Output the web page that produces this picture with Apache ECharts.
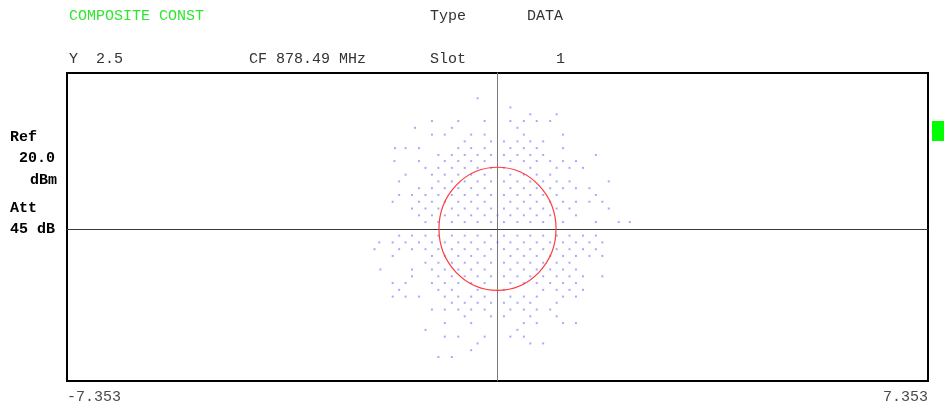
<!doctype html>
<html>
<head>
<meta charset="utf-8">
<title>Composite Const</title>
<script src="https://cdn.jsdelivr.net/npm/echarts@6/dist/echarts.min.js"></script>
<style>
  html, body { margin: 0; padding: 0; background: #fff; }
  #main { width: 944px; height: 402px; }
</style>
</head>
<body>
<div id="main"></div>
<script>
// axis ranges (x limits printed at the bottom, y about +-2.5 with the zero line a bit below centre)
var xLimits = [-7.353, 7.353];
var yLimits = [-2.47, 2.53];

// reference circle radius
var circleRadius = [1.0];

// constellation points: one Q level per row, I values
var qLevels = [2.12, 1.97, 1.86, 1.75, 1.64, 1.53, 1.42, 1.31, 1.20, 1.10, 0.99, 0.88, 0.77, 0.66, 0.55, 0.44, 0.33, 0.22, 0.11,
  -0.11, -0.22, -0.33, -0.44, -0.55, -0.66, -0.77, -0.88, -0.99, -1.10, -1.20, -1.31, -1.42, -1.53, -1.64, -1.75, -1.86, -1.97, -2.08];
var iByLevel = [
  [-0.34],
  [0.22],
  [0.56, 1.01],
  [-1.12, -0.67, -0.22, 0.22, 0.45, 0.67, 0.90],
  [-1.41, -0.78, 0.34],
  [-1.12, -0.90, -0.45, -0.22, 0.45, 1.12],
  [-0.56, -0.11, 0.11, 0.34, 0.56, 0.78],
  [-1.75, -1.57, -1.34, -0.67, -0.45, -0.22, 0.22, 0.45, 0.67, 1.12],
  [-1.01, -0.78, -0.56, -0.34, -0.11, 0.11, 0.34, 0.56, 0.78, 1.68],
  [-1.76, -1.34, -0.90, -0.67, -0.45, -0.22, 0.22, 0.45, 0.67, 0.90, 1.12, 1.34],
  [-1.23, -1.01, -0.78, -0.56, -0.34, -0.11, 0.11, 0.56, 1.01, 1.23, 1.46],
  [-1.57, -1.12, -0.90, -0.67, -0.45, -0.22, 0.22, 0.45, 0.67, 0.90],
  [-1.68, -1.01, -0.78, -0.56, -0.34, -0.11, 0.11, 0.34, 0.56, 0.78, 1.01, 1.23, 1.90],
  [-1.34, -1.12, -0.90, -0.67, -0.45, -0.22, 0.22, 0.45, 0.67, 0.90, 1.12, 1.34, 1.57],
  [-1.68, -1.46, -1.23, -1.01, -0.78, -0.56, -0.34, -0.11, 0.11, 0.34, 0.56, 0.78, 1.01, 1.68],
  [-1.79, -1.34, -1.12, -0.90, -0.67, -0.45, -0.22, 0.22, 0.45, 0.67, 0.90, 1.12, 1.34, 1.57, 1.79],
  [-1.46, -1.23, -1.01, -0.78, -0.56, -0.34, -0.11, 0.11, 0.34, 0.56, 0.78, 1.01, 1.23, 1.90],
  [-1.34, -1.12, -0.90, -0.67, -0.45, -0.22, 0, 0.22, 0.45, 0.67, 0.90, 1.34],
  [-1.23, -1.01, -0.78, -0.56, -0.34, -0.11, 0.11, 0.34, 0.56, 0.78, 1.12, 1.68, 2.07, 2.26],
  [-1.68, -1.46, -1.23, -1.01, -0.78, -0.56, -0.34, -0.11, 0.11, 0.34, 0.56, 0.78, 1.01, 1.23, 1.46, 1.68],
  [-2.02, -1.79, -1.57, -1.34, -1.12, -0.90, -0.67, -0.45, -0.22, 0, 0.22, 0.45, 0.67, 0.90, 1.12, 1.34, 1.57, 1.79],
  [-2.10, -1.68, -1.46, -1.23, -1.01, -0.78, -0.56, -0.34, -0.11, 0.11, 0.34, 0.56, 0.78, 1.01, 1.23, 1.46, 1.68],
  [-1.79, -1.12, -0.90, -0.67, -0.45, -0.22, 0.22, 0.45, 0.67, 0.90, 1.12, 1.34, 1.57, 1.79],
  [-1.23, -1.01, -0.78, -0.56, -0.34, -0.11, 0.11, 0.34, 0.56, 0.78, 1.01, 1.23],
  [-2.00, -1.46, -1.12, -0.90, -0.67, -0.45, -0.22, 0.22, 0.45, 0.67, 0.90, 1.12, 1.34],
  [-1.46, -1.01, -0.78, -0.56, -0.34, -0.11, 0.11, 0.34, 0.56, 0.78, 1.01, 1.23, 1.46, 1.79],
  [-1.79, -1.57, -1.12, -0.90, -0.67, -0.45, -0.22, 0.22, 0.45, 0.67, 0.90, 1.12, 1.34],
  [-1.68, -1.01, -0.78, -0.34, 0.11, 0.78, 1.01, 1.23, 1.46],
  [-1.79, -1.57, -1.34, -0.90, -0.67, -0.45, -0.22, 0.22, 0.45, 0.67, 1.12, 1.34],
  [-0.78, -0.56, -0.34, -0.11, 0.11, 0.34, 0.56, 1.01],
  [-1.12, -0.90, -0.67, -0.45, -0.22, 0.22, 0.45, 0.67, 0.90],
  [-0.56, -0.11, 0.11, 0.56, 1.01],
  [-0.90, -0.45, 0.45, 0.67, 1.12, 1.34],
  [-1.23, 0.34],
  [-0.90, -0.67, -0.22, 0.22, 0.45],
  [-0.34, 0.56, 0.78],
  [-0.45],
  [-1.01, -0.78]
];

// header / side texts
var headerLeft = ['COMPOSITE CONST', 'Y  2.5', 'CF 878.49 MHz'];
var headerRight = ['Type', 'DATA', 'Slot', '1'];
var sideLabels = ['Ref', '20.0', 'dBm', 'Att', '45 dB'];

var points = [];
qLevels.forEach(function (q, k) {
  iByLevel[k].forEach(function (i) { points.push([i, q]); });
});

var monoFont = '"Liberation Mono", "DejaVu Sans Mono", monospace';

function txt(s, x, y, color, weight, align) {
  return {
    type: 'text', x: x, y: y, silent: true,
    style: {
      text: s, fill: color, align: align || 'left', verticalAlign: 'middle',
      textAlign: align || 'left', textVerticalAlign: 'middle',
      font: (weight || 'normal') + ' 15px ' + monoFont
    }
  };
}

var myChart = echarts.init(document.getElementById('main'), null, { renderer: 'canvas' });

var option = {
  animation: false,
  backgroundColor: '#ffffff',
  grid: {
    left: 67, right: 16, top: 73, bottom: 21,
    outerBoundsMode: 'none', containLabel: false,
    show: true, borderColor: '#000000', borderWidth: 2, backgroundColor: 'transparent'
  },
  xAxis: {
    type: 'value', min: xLimits[0], max: xLimits[1],
    axisLine: { show: true, onZero: true, lineStyle: { color: '#3a3a3a', width: 1 } },
    axisTick: { show: false },
    splitLine: { show: false },
    axisLabel: {
      show: true, customValues: xLimits, margin: 9,
      alignMinLabel: 'left', alignMaxLabel: 'right',
      color: '#4a4a4a', fontFamily: monoFont, fontSize: 15,
      formatter: function (v) { return v.toFixed(3); }
    }
  },
  yAxis: {
    type: 'value', min: yLimits[0], max: yLimits[1],
    axisLine: { show: true, onZero: true, lineStyle: { color: '#7a7a7a', width: 1 } },
    axisTick: { show: false },
    splitLine: { show: false },
    axisLabel: { show: false }
  },
  series: [
    {
      type: 'scatter',
      data: points,
      symbol: 'rect',
      symbolSize: 2,
      itemStyle: { color: 'rgba(100,100,255,0.7)' },
      silent: true,
      z: 2
    },
    {
      type: 'custom',
      data: circleRadius,
      silent: true,
      z: 3,
      renderItem: function (params, api) {
        var c = api.coord([0, 0]);
        var s = api.size([api.value(0), api.value(0)]);
        return {
          type: 'ellipse',
          shape: { cx: c[0], cy: c[1], rx: s[0], ry: s[1] },
          style: { fill: null, stroke: '#ff3b3b', lineWidth: 1.2 }
        };
      }
    }
  ],
  graphic: [
    txt(headerLeft[0], 69, 16, '#2ee62e'),
    txt(headerLeft[1], 69, 59, '#333333'),
    txt(headerLeft[2], 249, 59, '#333333'),
    txt(headerRight[0], 430, 16, '#333333'),
    txt(headerRight[1], 527, 16, '#333333'),
    txt(headerRight[2], 430, 59, '#333333'),
    txt(headerRight[3], 556, 59, '#333333'),
    txt(sideLabels[0], 10, 137, '#000000', 'bold'),
    txt(sideLabels[1], 19, 158, '#000000', 'bold'),
    txt(sideLabels[2], 30, 180, '#000000', 'bold'),
    txt(sideLabels[3], 10, 208, '#000000', 'bold'),
    txt(sideLabels[4], 10, 229, '#000000', 'bold'),
    { type: 'rect', left: 932, top: 121, silent: true,
      shape: { width: 14, height: 20 }, style: { fill: '#00ff00' } }
  ]
};

myChart.setOption(option);
</script>
</body>
</html>
